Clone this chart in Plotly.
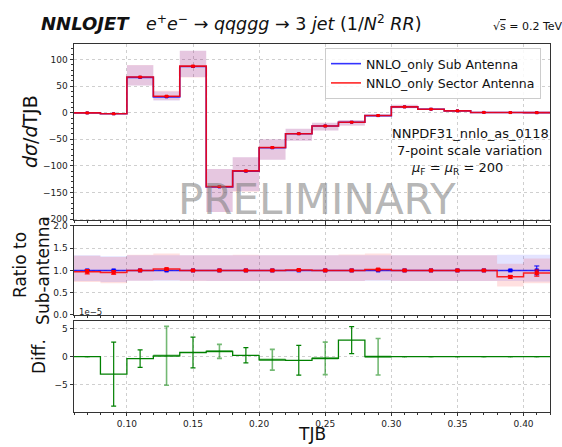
import plotly.graph_objects as go

W, H = 562, 447

# ---------------- data ----------------
bin_edges = [0.06, 0.08, 0.10, 0.12, 0.14, 0.16, 0.18, 0.20, 0.22, 0.24,
             0.26, 0.28, 0.30, 0.32, 0.34, 0.36, 0.38, 0.40, 0.42]
bin_centers = [0.07, 0.09, 0.11, 0.13, 0.15, 0.17, 0.19, 0.21, 0.23, 0.25,
               0.27, 0.29, 0.31, 0.33, 0.35, 0.37, 0.39, 0.41]

sub_vals = [-0.4, -2.0, 66.5, 29.8, 87.0, -139.5, -110.0, -66.0, -39.5, -25.0,
            -18.0, -5.5, 11.0, 6.5, 3.5, 0.5, 0.3, 0.1]
sec_vals = [-0.4, -2.0, 67.0, 31.0, 87.5, -139.0, -109.5, -65.5, -39.5, -25.0,
            -18.0, -5.3, 11.0, 6.5, 3.5, 0.5, 0.25, 0.1]
sub_err = [0.3, 0.3, 1.0, 1.0, 1.2, 1.0, 1.0, 0.8, 0.6, 0.4,
           0.4, 0.3, 0.3, 0.2, 0.2, 0.1, 0.1, 0.1]
sec_err = [0.3, 0.3, 1.0, 1.2, 1.5, 1.0, 1.2, 0.8, 0.6, 0.4,
           0.4, 0.3, 0.3, 0.2, 0.2, 0.1, 0.1, 0.1]

# scale-variation envelopes, relative to the Sub-antenna central value
sub_hi_f = [1.34, 1.32, 1.34, 1.34, 1.34, 1.34, 1.34, 1.34, 1.34, 1.34,
            1.34, 1.34, 1.34, 1.34, 1.34, 1.34, 1.35, 1.35]
sub_lo_f = [0.76, 0.74, 0.77, 0.77, 0.77, 0.76, 0.76, 0.76, 0.76, 0.76,
            0.76, 0.77, 0.76, 0.76, 0.76, 0.76, 0.76, 0.75]
sec_hi_f = [1.33, 1.30, 1.35, 1.38, 1.34, 1.34, 1.35, 1.34, 1.34, 1.34,
            1.36, 1.38, 1.34, 1.34, 1.34, 1.34, 1.15, 1.27]
sec_lo_f = [0.74, 0.71, 0.77, 0.78, 0.76, 0.76, 0.76, 0.76, 0.76, 0.76,
            0.76, 0.78, 0.76, 0.76, 0.76, 0.76, 0.64, 0.71]

ratio_sub = [1.0] * 18
ratio_sub_err = [0.01, 0.01, 0.005, 0.01, 0.005, 0.005, 0.005, 0.005, 0.005, 0.005,
                 0.005, 0.01, 0.005, 0.005, 0.005, 0.005, 0.01, 0.10]
ratio_sec = [0.97, 0.955, 1.0, 1.03, 1.0, 1.0, 1.0, 1.0, 1.01, 1.0,
             1.0, 1.02, 1.0, 1.0, 1.0, 1.0, 0.855, 0.94]
ratio_sec_err = [0.05, 0.04, 0.005, 0.02, 0.01, 0.01, 0.01, 0.01, 0.01, 0.01,
                 0.01, 0.02, 0.01, 0.01, 0.01, 0.01, 0.03, 0.07]

diff_vals = [0.0, -3.1, -0.35, 0.15, 0.75, 0.95, 0.25, -0.55, -0.65, -0.3,
             2.95, 0.0, 0.0, 0.0, 0.0, 0.0, 0.0, 0.0]   # x 1e-5
diff_err = [0.0, 5.7, 1.55, 5.25, 2.75, 1.25, 1.35, 1.85, 2.65, 2.9,
            2.4, 3.25, 0.0, 0.0, 0.0, 0.0, 0.0, 0.0]    # x 1e-5
diff_light = [False, False, False, True, False, True, False, True, False, True,
              False, True, False, False, False, False, False, False]

top_yticks = [-200, -150, -100, -50, 0, 50, 100]
ratio_yticks = [0.0, 0.5, 1.0, 1.5, 2.0]
diff_yticks = [-5, 0, 5]
x_ticks = [0.10, 0.15, 0.20, 0.25, 0.30, 0.35, 0.40]

BLUE = "#0000ff"
RED = "#ff0000"
GREEN = "#008000"
BLUE_FILL = "rgba(0,0,255,0.11)"
RED_FILL = "rgba(255,0,0,0.12)"


def stepy(vals):
    return list(vals) + [vals[-1]]


fig = go.Figure()


def band(lo, hi, fill, xa, ya):
    fig.add_trace(go.Scatter(x=bin_edges, y=stepy(lo), mode="lines", line=dict(width=0, shape="hv"),
                             showlegend=False, hoverinfo="skip", xaxis=xa, yaxis=ya))
    fig.add_trace(go.Scatter(x=bin_edges, y=stepy(hi), mode="lines", line=dict(width=0, shape="hv"),
                             fill="tonexty", fillcolor=fill, showlegend=False, hoverinfo="skip",
                             xaxis=xa, yaxis=ya))


# ---------------- top panel ----------------
sub_b1 = [v * f for v, f in zip(sub_vals, sub_hi_f)]
sub_b2 = [v * f for v, f in zip(sub_vals, sub_lo_f)]
sec_b1 = [v * f for v, f in zip(sub_vals, sec_hi_f)]
sec_b2 = [v * f for v, f in zip(sub_vals, sec_lo_f)]
band([min(a, b) for a, b in zip(sub_b1, sub_b2)], [max(a, b) for a, b in zip(sub_b1, sub_b2)], BLUE_FILL, "x", "y")
band([min(a, b) for a, b in zip(sec_b1, sec_b2)], [max(a, b) for a, b in zip(sec_b1, sec_b2)], RED_FILL, "x", "y")

fig.add_trace(go.Scatter(x=bin_edges, y=stepy(sub_vals), mode="lines",
                         line=dict(color=BLUE, width=1.6, shape="hv"),
                         name="NNLO_only Sub Antenna", opacity=0.8, xaxis="x", yaxis="y"))
fig.add_trace(go.Scatter(x=bin_centers, y=sub_vals, mode="markers",
                         marker=dict(symbol="square", size=3, color=BLUE),
                         error_y=dict(type="data", array=sub_err, color=BLUE, thickness=1, width=2),
                         showlegend=False, xaxis="x", yaxis="y"))
fig.add_trace(go.Scatter(x=bin_edges, y=stepy(sec_vals), mode="lines",
                         line=dict(color=RED, width=1.6, shape="hv"),
                         name="NNLO_only Sector Antenna", opacity=0.85, xaxis="x", yaxis="y"))
fig.add_trace(go.Scatter(x=bin_centers, y=sec_vals, mode="markers",
                         marker=dict(symbol="square", size=3, color=RED),
                         error_y=dict(type="data", array=sec_err, color=RED, thickness=1, width=2),
                         showlegend=False, xaxis="x", yaxis="y"))

# ---------------- ratio panel ----------------
band(sub_lo_f, sub_hi_f, BLUE_FILL, "x2", "y2")
band(sec_lo_f, sec_hi_f, RED_FILL, "x2", "y2")
fig.add_trace(go.Scatter(x=bin_edges, y=stepy(ratio_sub), mode="lines",
                         line=dict(color=BLUE, width=1.5, shape="hv"), opacity=0.8,
                         showlegend=False, xaxis="x2", yaxis="y2"))
fig.add_trace(go.Scatter(x=bin_centers, y=ratio_sub, mode="markers",
                         marker=dict(symbol="square", size=4, color=BLUE),
                         error_y=dict(type="data", array=ratio_sub_err, color=BLUE, thickness=1, width=2.5),
                         showlegend=False, xaxis="x2", yaxis="y2"))
fig.add_trace(go.Scatter(x=bin_edges, y=stepy(ratio_sec), mode="lines",
                         line=dict(color=RED, width=1.5, shape="hv"), opacity=0.85,
                         showlegend=False, xaxis="x2", yaxis="y2"))
fig.add_trace(go.Scatter(x=bin_centers, y=ratio_sec, mode="markers",
                         marker=dict(symbol="square", size=4, color=RED),
                         error_y=dict(type="data", array=ratio_sec_err, color=RED, thickness=1, width=2.5),
                         showlegend=False, xaxis="x2", yaxis="y2"))

# ---------------- diff panel ----------------
fig.add_trace(go.Scatter(x=bin_edges, y=stepy(diff_vals), mode="lines",
                         line=dict(color=GREEN, width=1.3, shape="hv"),
                         showlegend=False, xaxis="x3", yaxis="y3"))
lx, ly = [], []
for i, lt in enumerate(diff_light):
    if lt:
        lx += [bin_edges[i], bin_edges[i + 1], None]
        ly += [diff_vals[i], diff_vals[i], None]
fig.add_trace(go.Scatter(x=lx, y=ly, mode="lines", line=dict(color="rgba(0,128,0,0.45)", width=2.5),
                         showlegend=False, xaxis="x3", yaxis="y3"))
dark_x = [c for c, lt in zip(bin_centers, diff_light) if not lt]
dark_y = [v for v, lt in zip(diff_vals, diff_light) if not lt]
dark_e = [e for e, lt in zip(diff_err, diff_light) if not lt]
lig_x = [c for c, lt in zip(bin_centers, diff_light) if lt]
lig_y = [v for v, lt in zip(diff_vals, diff_light) if lt]
lig_e = [e for e, lt in zip(diff_err, diff_light) if lt]
fig.add_trace(go.Scatter(x=dark_x, y=dark_y, mode="markers", marker=dict(size=1, color=GREEN),
                         error_y=dict(type="data", array=dark_e, color=GREEN, thickness=1.2, width=2.5),
                         showlegend=False, xaxis="x3", yaxis="y3"))
fig.add_trace(go.Scatter(x=lig_x, y=lig_y, mode="markers", marker=dict(size=1, color="rgba(0,128,0,0.5)"),
                         error_y=dict(type="data", array=lig_e, color="rgba(0,128,0,0.55)", thickness=1.6, width=2.5),
                         showlegend=False, xaxis="x3", yaxis="y3"))

# ---------------- layout ----------------
XD = [74 / W, 550 / W]


def ydom(top_px, bot_px):
    return [1 - bot_px / H, 1 - top_px / H]


tickfont = dict(family="DejaVu Sans", size=9, color="#222")
common_x = dict(range=[0.06, 0.42], domain=XD, tickvals=x_ticks, ticks="outside", ticklen=3.5,
                tickcolor="#333", showline=True, mirror=True, linecolor="#333", linewidth=1,
                showgrid=True, gridcolor="#cfcfcf", griddash="dot", gridwidth=1, zeroline=False,
                minor=dict(dtick=0.01, tick0=0.0, ticks="outside", ticklen=2, tickcolor="#333", showgrid=False),
                tickfont=tickfont)
common_y = dict(ticks="outside", ticklen=3.5, tickcolor="#333", showline=True, mirror=True,
                linecolor="#333", linewidth=1, showgrid=True, gridcolor="#cfcfcf", griddash="dot",
                gridwidth=1, zeroline=False, tickfont=tickfont)

fig.update_layout(
    width=W, height=H, margin=dict(l=0, r=0, t=0, b=0),
    plot_bgcolor="white", paper_bgcolor="white",
    font=dict(family="DejaVu Sans", color="#111"),
    xaxis=dict(common_x, anchor="y", showticklabels=False),
    xaxis2=dict(common_x, anchor="y2", showticklabels=False, matches="x"),
    xaxis3=dict(common_x, anchor="y3", matches="x", tickformat=".2f"),
    yaxis=dict(common_y, domain=ydom(40, 220), range=[-202, 129], tickvals=top_yticks,
               minor=dict(dtick=10, ticks="outside", ticklen=2, tickcolor="#333", showgrid=False), anchor="x"),
    yaxis2=dict(common_y, domain=ydom(226, 317), range=[0, 2], tickvals=ratio_yticks, tickformat=".1f", anchor="x2"),
    yaxis3=dict(common_y, domain=ydom(323, 416), range=[-9.8, 6.4], tickvals=diff_yticks, anchor="x3"),
    legend=dict(x=325 / W, y=1 - 44 / H, xanchor="left", yanchor="top", bgcolor="rgba(255,255,255,0.85)",
                bordercolor="#cccccc", borderwidth=1, font=dict(family="DejaVu Sans", size=12.5, color="#111"),
                tracegroupgap=0, itemwidth=30, traceorder="normal"),
    showlegend=True,
)


def ann(text, xpx, ypx, size, xanchor="center", yanchor="middle", angle=0, color="#111", **kw):
    fig.add_annotation(text=text, x=xpx / W, y=1 - ypx / H, xref="paper", yref="paper",
                       showarrow=False, xanchor=xanchor, yanchor=yanchor, textangle=angle,
                       font=dict(family="DejaVu Sans", size=size, color=color), **kw)


ann("<b><i>NNLOJET</i></b>", 39, 19, 18, xanchor="left")
ann("<i>e</i><sup>+</sup><i>e</i><sup>−</sup> → <i>qqggg</i> → 3 <i>jet</i> (1/<i>N</i><sup>2</sup> <i>RR</i>)",
    144, 18, 17.5, xanchor="left")
ann("√<span style='text-decoration:overline'>s</span> = 0.2 TeV", 491, 22, 11, xanchor="left")

ann("NNPDF31_nnlo_as_0118", 470, 131, 13)
ann("7-point scale variation", 469, 149, 13)
ann("<i>μ</i><sub>F</sub> = <i>μ</i><sub>R</sub> = 200", 457, 167, 13)

ann("PRELIMINARY", 317, 199, 42, color="rgba(120,120,120,0.55)")

ann("<i>dσ</i>/<i>d</i>TJB", 30, 130, 19, angle=-90)
ann("Ratio to", 20, 266, 17, angle=-90)
ann("Sub-antenna", 43, 272, 17, angle=-90)
ann("Diff.", 39, 360, 17, angle=-90)
ann("TJB", 312, 439, 17)
ann("1e−5", 77, 321, 8.5, xanchor="left", yanchor="bottom", color="#222")

fig.write_html("out.html", config={"displayModeBar": False},
               post_script="document.body.style.margin='0';document.body.style.overflow='hidden';")
